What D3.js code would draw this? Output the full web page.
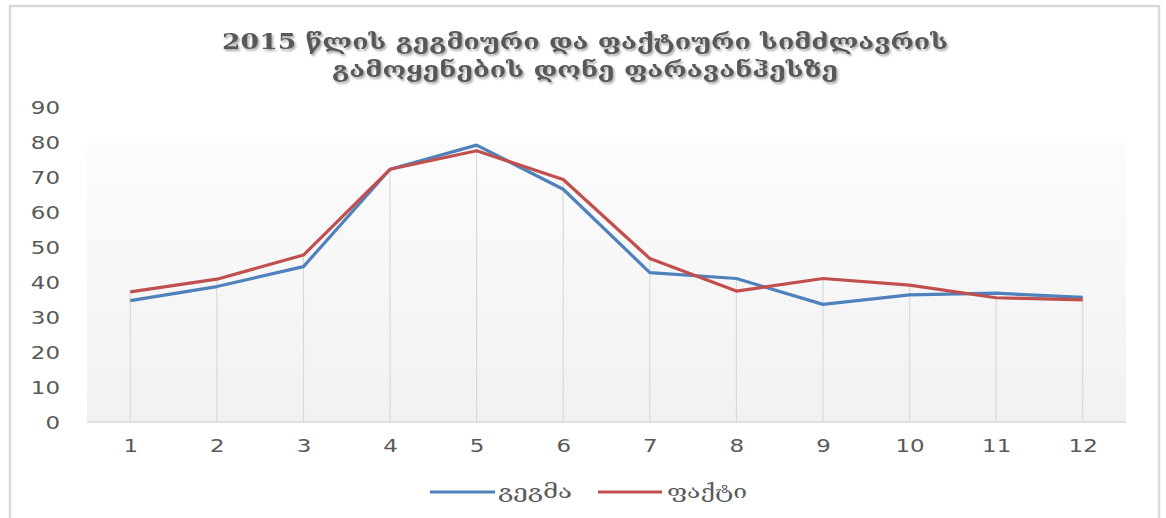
<!DOCTYPE html>
<html>
<head>
<meta charset="utf-8">
<script src="https://cdn.jsdelivr.net/npm/d3@7"></script>
<style>
  html, body { margin: 0; padding: 0; background: #ffffff; }
  svg { display: block; }
</style>
</head>
<body>
<svg id="chart" width="1166" height="518"></svg>
<script>
// Monthly planned vs actual capacity utilisation, 2015
const months = [1, 2, 3, 4, 5, 6, 7, 8, 9, 10, 11, 12];
const planValues = [34.7, 38.7, 44.4, 72.2, 79.1, 66.5, 42.7, 41.0, 33.6, 36.3, 36.8, 35.6];
const factValues = [37.2, 40.8, 47.7, 72.2, 77.5, 69.3, 46.7, 37.4, 41.0, 39.1, 35.5, 34.9];
const yTicks = [0, 10, 20, 30, 40, 50, 60, 70, 80, 90];
const titleLines = [
  "2015 წლის გეგმიური და ფაქტიური სიმძლავრის",
  "გამოყენების დონე ფარავანჰესზე"
];
const seriesNames = ["გეგმა", "ფაქტი"];
const seriesColors = ["#4f81bd", "#c0504d"];

const svg = d3.select("#chart");
const textColor = "#595959";
const fontFamily = "'DejaVu Sans', 'Noto Sans', sans-serif";
const serifFamily = "'DejaVu Serif', 'DejaVu Sans', serif";
const stretch = 1.35; // wide text face

const plot = { left: 87, right: 1126, top: 107, bottom: 422, bgTop: 143 };

const x = d3.scalePoint().domain(months).range([plot.left, plot.right]).padding(0.5);
const y = d3.scaleLinear().domain([0, 90]).range([plot.bottom, plot.top]);

const defs = svg.append("defs");
const grad = defs.append("linearGradient").attr("id", "plotBg")
  .attr("x1", 0).attr("y1", 0).attr("x2", 0).attr("y2", 1);
grad.append("stop").attr("offset", "0%").attr("stop-color", "#fcfcfc");
grad.append("stop").attr("offset", "100%").attr("stop-color", "#f1f1f1");

const shadow = defs.append("filter").attr("id", "titleShadow")
  .attr("x", "-10%").attr("y", "-30%").attr("width", "120%").attr("height", "170%");
shadow.append("feDropShadow").attr("dx", 1.5).attr("dy", 2).attr("stdDeviation", 1.3)
  .attr("flood-color", "#000").attr("flood-opacity", 0.35);

const soft = defs.append("filter").attr("id", "soft");
soft.append("feGaussianBlur").attr("stdDeviation", 0.35);

// chart frame
svg.append("rect")
  .attr("x", 10).attr("y", 6).attr("width", 1149).attr("height", 540)
  .attr("fill", "#ffffff").attr("stroke", "#d9d9d9").attr("stroke-width", 2.5);

// plot area background
svg.append("rect")
  .attr("x", plot.left).attr("y", plot.bgTop)
  .attr("width", plot.right - plot.left).attr("height", plot.bottom - plot.bgTop)
  .attr("fill", "url(#plotBg)");

// title
const title = svg.append("g").attr("filter", "url(#titleShadow)");
const titleWidths = [726, 506];
titleLines.forEach((t, i) => {
  title.append("text")
    .attr("x", 585).attr("y", 49 + i * 28)
    .attr("text-anchor", "middle")
    .attr("font-family", serifFamily)
    .attr("font-weight", "bold")
    .attr("font-size", 22)
    .attr("fill", textColor)
    .attr("textLength", titleWidths[i])
    .attr("lengthAdjust", "spacingAndGlyphs")
    .text(t);
});

// y axis (labels only)
const yAxis = svg.append("g")
  .attr("transform", `translate(${plot.left},0)`)
  .call(d3.axisLeft(y).tickValues(yTicks).tickSize(0).tickPadding(0));
yAxis.select(".domain").remove();
yAxis.selectAll("text")
  .attr("x", -27 / stretch)
  .attr("dy", "0.36em")
  .attr("transform", `scale(${stretch},1)`)
  .attr("font-family", fontFamily)
  .attr("font-size", 17)
  .attr("fill", textColor);

// drop lines from the higher value down to the axis
svg.append("g").selectAll("line")
  .data(months.map((m, i) => ({ m, v: Math.max(planValues[i], factValues[i]) })))
  .join("line")
  .attr("x1", d => x(d.m)).attr("x2", d => x(d.m))
  .attr("y1", d => y(d.v)).attr("y2", y(0))
  .attr("stroke", "#d9d9d9").attr("stroke-width", 1.2);

// x axis
const xAxis = svg.append("g")
  .attr("transform", `translate(0,${plot.bottom})`)
  .call(d3.axisBottom(x).tickSize(0).tickPadding(0));
xAxis.select(".domain")
  .attr("d", `M${plot.left},0H${plot.right}`)
  .attr("stroke", "#d9d9d9").attr("stroke-width", 1.5);
xAxis.selectAll("text")
  .attr("y", 24)
  .attr("dy", "0.36em")
  .attr("transform", `scale(${stretch},1)`)
  .attr("x", 0)
  .attr("font-family", fontFamily)
  .attr("font-size", 17)
  .attr("fill", textColor);

// series lines
const line = d3.line().x((d, i) => x(months[i])).y(d => y(d));
[planValues, factValues].forEach((vals, k) => {
  svg.append("path")
    .datum(vals)
    .attr("d", line)
    .attr("fill", "none")
    .attr("stroke", seriesColors[k])
    .attr("stroke-width", 3.2)
    .attr("stroke-linejoin", "round")
    .attr("filter", "url(#soft)");
});

// legend
const legendItems = [
  { name: seriesNames[0], color: seriesColors[0], x1: 430, x2: 495, tx: 498, w: 74 },
  { name: seriesNames[1], color: seriesColors[1], x1: 598, x2: 662, tx: 667, w: 80 }
];
const legend = svg.append("g");
legendItems.forEach(it => {
  legend.append("line")
    .attr("x1", it.x1).attr("x2", it.x2)
    .attr("y1", 492).attr("y2", 492)
    .attr("stroke", it.color).attr("stroke-width", 3.2);
  legend.append("text")
    .attr("x", it.tx).attr("y", 498)
    .attr("font-family", serifFamily)
    .attr("font-size", 18)
    .attr("fill", textColor)
    .attr("textLength", it.w)
    .attr("lengthAdjust", "spacingAndGlyphs")
    .text(it.name);
});
</script>
</body>
</html>
